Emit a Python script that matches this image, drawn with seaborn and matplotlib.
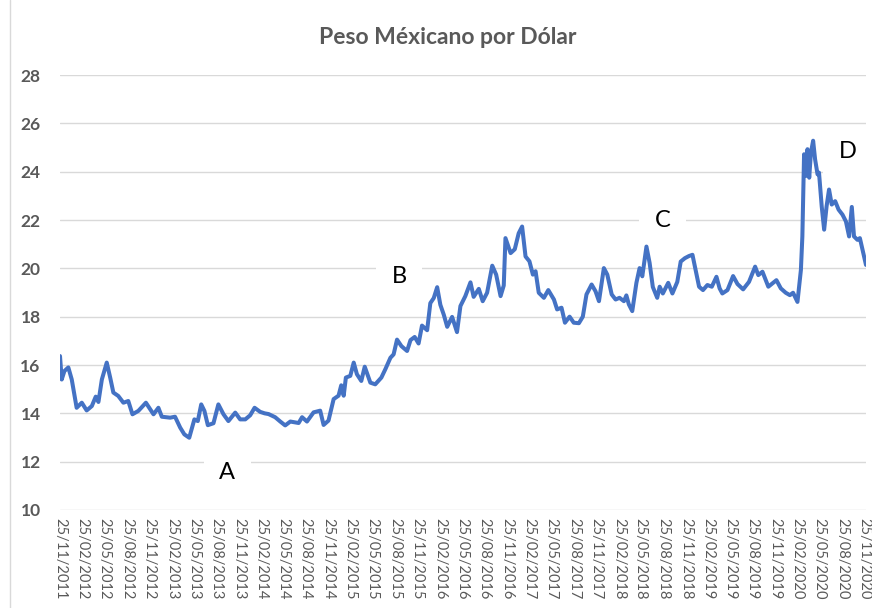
import pandas as pd
import matplotlib.pyplot as plt
import seaborn as sns
from matplotlib.lines import Line2D

# Tipo de cambio MXN/USD
fechas = [
    "2011-11-25", "2011-12-02", "2011-12-13", "2011-12-29", "2012-01-12", "2012-02-01",
    "2012-02-22", "2012-03-13", "2012-04-03", "2012-04-19", "2012-04-30", "2012-05-14",
    "2012-06-03", "2012-06-17", "2012-06-30", "2012-07-20", "2012-08-10", "2012-08-30",
    "2012-09-16", "2012-10-10", "2012-11-10", "2012-12-11", "2012-12-31", "2013-01-14",
    "2013-02-17", "2013-03-09", "2013-03-30", "2013-04-16", "2013-05-06", "2013-05-27",
    "2013-06-10", "2013-06-24", "2013-07-07", "2013-07-21", "2013-08-13", "2013-09-02",
    "2013-09-23", "2013-10-13", "2013-11-10", "2013-11-30", "2013-12-21", "2014-01-10",
    "2014-01-28", "2014-02-20", "2014-03-10", "2014-03-26", "2014-04-22", "2014-05-13",
    "2014-06-02", "2014-06-23", "2014-07-27", "2014-08-10", "2014-08-30", "2014-09-26",
    "2014-10-23", "2014-11-06", "2014-11-26", "2014-12-17", "2015-01-06", "2015-01-17",
    "2015-01-27", "2015-02-05", "2015-02-23", "2015-03-09", "2015-03-22", "2015-04-09",
    "2015-04-23", "2015-05-16", "2015-06-05", "2015-06-30", "2015-07-16", "2015-08-06",
    "2015-08-19", "2015-09-02", "2015-09-20", "2015-10-13", "2015-10-27", "2015-11-13",
    "2015-11-29", "2015-12-13", "2016-01-03", "2016-01-16", "2016-01-30", "2016-02-13",
    "2016-02-26", "2016-03-11", "2016-03-25", "2016-04-14", "2016-05-04", "2016-05-18",
    "2016-06-07", "2016-06-28", "2016-07-11", "2016-08-01", "2016-08-17", "2016-09-04",
    "2016-09-25", "2016-10-11", "2016-10-29", "2016-11-11", "2016-11-18", "2016-12-09",
    "2016-12-26", "2017-01-11", "2017-01-25", "2017-02-08", "2017-02-24", "2017-03-10",
    "2017-03-21", "2017-04-03", "2017-04-24", "2017-05-12", "2017-06-04", "2017-06-17",
    "2017-07-05", "2017-07-19", "2017-08-07", "2017-08-24", "2017-09-14", "2017-09-30",
    "2017-10-15", "2017-11-05", "2017-11-21", "2017-12-05", "2017-12-25", "2018-01-08",
    "2018-01-26", "2018-02-11", "2018-02-27", "2018-03-17", "2018-03-27", "2018-04-06",
    "2018-04-20", "2018-05-07", "2018-05-20", "2018-05-31", "2018-06-17", "2018-06-30",
    "2018-07-13", "2018-07-31", "2018-08-10", "2018-08-23", "2018-09-14", "2018-10-01",
    "2018-10-21", "2018-11-04", "2018-11-21", "2018-12-08", "2018-12-22", "2019-01-04",
    "2019-01-18", "2019-02-03", "2019-02-21", "2019-03-11", "2019-03-30", "2019-04-12",
    "2019-04-23", "2019-05-14", "2019-06-06", "2019-06-24", "2019-07-17", "2019-08-10",
    "2019-09-04", "2019-09-17", "2019-10-04", "2019-10-28", "2019-11-14", "2019-11-30",
    "2019-12-18", "2020-01-07", "2020-01-24", "2020-02-06", "2020-02-24", "2020-03-09",
    "2020-03-15", "2020-03-22", "2020-03-29", "2020-04-05", "2020-04-12", "2020-04-19",
    "2020-04-28", "2020-05-06", "2020-05-16", "2020-05-22", "2020-06-02", "2020-06-12",
    "2020-06-22", "2020-07-02", "2020-07-13", "2020-07-27", "2020-08-10", "2020-08-26",
    "2020-09-09", "2020-09-22", "2020-10-03", "2020-10-12", "2020-10-26", "2020-11-05",
    "2020-11-16", "2020-11-30",
]
pesos = [
    16.37, 15.40, 15.75, 15.90, 15.40, 14.23,
    14.44, 14.12, 14.30, 14.69, 14.47, 15.40,
    16.10, 15.48, 14.86, 14.72, 14.44, 14.51,
    13.96, 14.10, 14.44, 13.96, 14.23, 13.86,
    13.82, 13.86, 13.41, 13.13, 12.99, 13.75,
    13.68, 14.37, 14.10, 13.51, 13.59, 14.37,
    13.96, 13.68, 14.03, 13.75, 13.75, 13.92,
    14.23, 14.06, 14.00, 13.97, 13.84, 13.66,
    13.50, 13.66, 13.60, 13.84, 13.66, 14.04,
    14.11, 13.52, 13.70, 14.59, 14.73, 15.16,
    14.73, 15.48, 15.55, 16.10, 15.62, 15.34,
    15.93, 15.27, 15.20, 15.48, 15.82, 16.30,
    16.44, 17.05, 16.78, 16.58, 17.03, 17.16,
    16.89, 17.63, 17.44, 18.56, 18.77, 19.22,
    18.49, 18.08, 17.58, 17.99, 17.36, 18.44,
    18.85, 19.42, 18.82, 19.15, 18.64, 18.99,
    20.11, 19.74, 18.85, 19.29, 21.25, 20.63,
    20.79, 21.45, 21.73, 20.49, 20.29, 19.74,
    19.88, 18.99, 18.78, 19.10, 18.71, 18.30,
    18.37, 17.75, 18.00, 17.75, 17.73, 18.00,
    18.92, 19.33, 19.05, 18.64, 20.01, 19.74,
    18.92, 18.71, 18.78, 18.64, 18.88, 18.51,
    18.23, 19.40, 20.01, 19.67, 20.90, 20.22,
    19.23, 18.78, 19.24, 18.96, 19.40, 18.96,
    19.44, 20.28, 20.42, 20.51, 20.56, 19.93,
    19.24, 19.10, 19.31, 19.24, 19.65, 19.17,
    18.96, 19.10, 19.68, 19.35, 19.13, 19.44,
    20.07, 19.72, 19.86, 19.24, 19.38, 19.51,
    19.17, 18.99, 18.89, 18.99, 18.61, 19.93,
    21.32, 24.72, 23.82, 24.93, 23.75, 24.79,
    25.28, 24.51, 23.89, 23.96, 22.57, 21.60,
    22.57, 23.26, 22.64, 22.78, 22.43, 22.22,
    21.94, 21.32, 22.54, 21.32, 21.18, 21.25,
    20.76, 20.14,
]

etiquetas = ["A", "B", "C", "D"]
etiqueta_fechas = ["2013-10-08", "2015-09-11", "2018-08-22", "2020-09-15"]
etiqueta_valores = [11.55, 19.68, 21.96, 24.85]

sns.set_theme(style="white")
plt.rcParams["font.family"] = ["Lato", "DejaVu Sans"]

df = pd.DataFrame({"fecha": pd.to_datetime(fechas), "peso": pesos})
ticks = pd.date_range("2011-11-01", "2020-11-01", freq="3MS") + pd.Timedelta(days=24)

fig = plt.figure(figsize=(8.72, 6.08), dpi=100)
ax = fig.add_axes([60 / 872, 1 - 510 / 608, 806 / 872, 435 / 608])
sns.lineplot(data=df, x="fecha", y="peso", color="#4472C4", linewidth=2.9, ax=ax, zorder=2)

ax.set_xlim(df["fecha"].iloc[0], df["fecha"].iloc[-1])
ax.set_ylim(10, 28)
ax.set_yticks(range(10, 29, 2))
ax.set_xticks(ticks)
ax.set_xticklabels([t.strftime("%d/%m/%Y") for t in ticks], rotation=-90,
                   fontsize=10.5, color="#595959")
ax.set_yticklabels([str(v) for v in range(10, 29, 2)], fontsize=12.5,
                   fontweight="bold", color="#595959")
ax.tick_params(axis="x", length=0, pad=6)
ax.tick_params(axis="y", length=0, pad=14)
ax.set_xlabel("")
ax.set_ylabel("")
ax.grid(axis="y", color="#D9D9D9", linewidth=1)
ax.grid(axis="x", visible=False)
for s in ax.spines.values():
    s.set_visible(False)

for txt, f, v in zip(etiquetas, etiqueta_fechas, etiqueta_valores):
    ax.text(pd.Timestamp(f), v, txt, fontsize=17, color="black", ha="center",
            va="center", zorder=1.5,
            bbox=dict(facecolor="white", edgecolor="none", pad=11))

fig.text(448 / 872, 1 - 38 / 608, "Peso Méxicano por Dólar", ha="center", va="center",
         fontsize=16.5, fontweight="bold", color="#595959")
fig.add_artist(Line2D([10 / 872, 10 / 872], [0, 1], color="#D9D9D9", linewidth=1))

fig.savefig("out.png", dpi=100)
